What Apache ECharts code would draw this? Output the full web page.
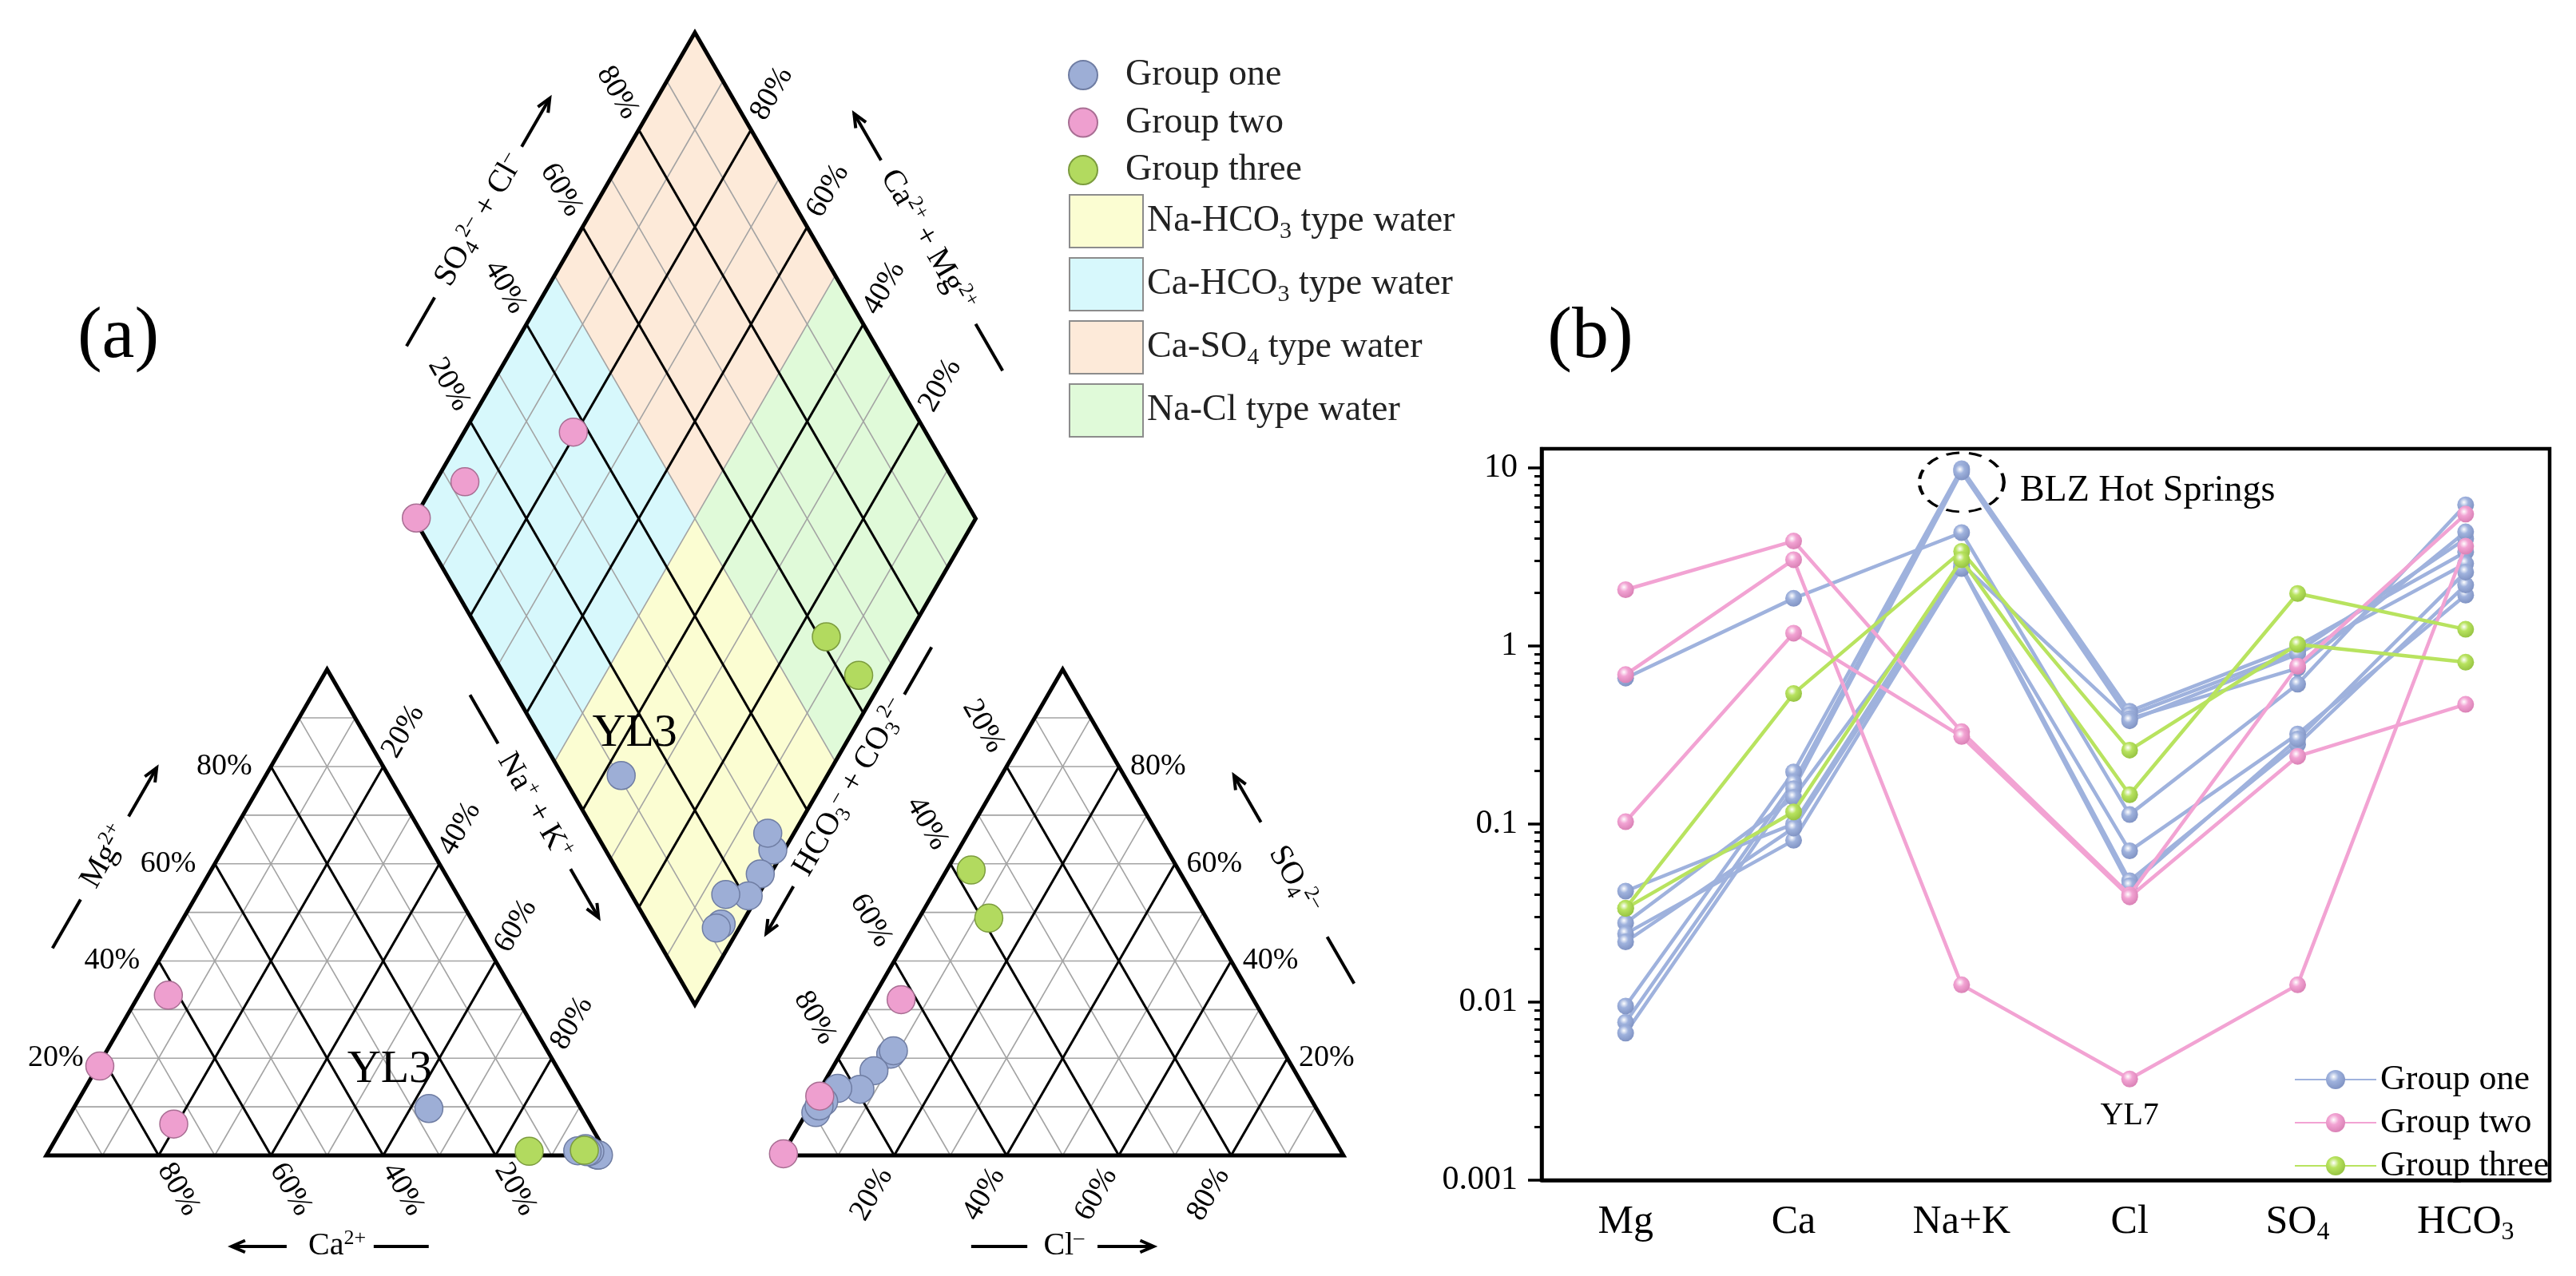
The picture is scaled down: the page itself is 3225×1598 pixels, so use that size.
<!DOCTYPE html>
<html><head><meta charset="utf-8">
<script src="https://cdn.jsdelivr.net/npm/echarts@6/dist/echarts.min.js"></script>
<style>html,body{margin:0;padding:0;background:#fff}#c{width:3225px;height:1598px}</style>
</head><body><div id="c"></div>
<script>
// ---------------- DATA ----------------
const categories = ['Mg', 'Ca', 'Na+K', 'Cl', 'SO4', 'HCO3'];
// each row: Mg, Ca, Na+K, Cl, SO4, HCO3
const groupOne = [
  [0.66, 1.85, 4.33, 0.113, 0.61, 6.2],
  [0.0095, 0.196, 9.9, 0.43, 1.0, 3.37],
  [0.0077, 0.171, 9.7, 0.41, 0.93, 4.0],
  [0.0067, 0.158, 9.5, 0.39, 0.75, 4.37],
  [0.042, 0.1, 2.9, 0.38, 0.9, 2.9],
  [0.0278, 0.141, 2.72, 0.0707, 0.32, 1.93],
  [0.0242, 0.081, 2.8, 0.048, 0.28, 2.2],
  [0.0218, 0.095, 2.75, 0.045, 0.3, 2.6]
];
const groupTwo = [
  [2.07, 3.88, 0.33, 0.04, 0.77, 5.5],
  [0.69, 3.05, 0.0125, 0.0037, 0.0125, 3.63],
  [0.103, 1.18, 0.31, 0.039, 0.24, 0.47]
];
const groupThree = [
  [0.0336, 0.54, 3.4, 0.26, 1.02, 0.81],
  [0.0336, 0.117, 3.05, 0.146, 1.97, 1.24]
];
const groupNames = ['Group one', 'Group two', 'Group three'];
const yl3Index = 0;      // in groupOne
const yl7Index = 1;      // in groupTwo
const blzIndex = 1;      // in groupOne (BLZ hot springs)
const yMajorTicks = [0.001, 0.01, 0.1, 1, 10];
const yMinorTicks = [0.002,0.003,0.004,0.005,0.006,0.007,0.008,0.009,
  0.02,0.03,0.04,0.05,0.06,0.07,0.08,0.09,
  0.2,0.3,0.4,0.5,0.6,0.7,0.8,0.9,
  2,3,4,5,6,7,8,9];
const piperLabelTicks = [20, 40, 60, 80];
const piperGridSteps = [10, 20, 30, 40, 50, 60, 70, 80, 90];
const zoneNames = ['Na-HCO3 type water', 'Ca-HCO3 type water', 'Ca-SO4 type water', 'Na-Cl type water'];
// [a0, a1, c0, c1]  a = (SO4+Cl) fraction, c = (Na+K) fraction
const zoneRanges = [[0, 0.5, 0.5, 1], [0, 0.5, 0, 0.5], [0.5, 1, 0, 0.5], [0.5, 1, 0.5, 1]];

// ---------------- STYLE ----------------
const FONT = 'Liberation Serif';
const zoneColors = ['#FBFDD2', '#D7F8FC', '#FDEAD9', '#E0FAD9'];
const ptFill = ['#9DAED6', '#EE9FCF', '#B2DA5F'];
const ptBorder = ['#6F7DA3', '#A86E93', '#7C9C3E'];
const lineCol = ['#9FB2DD', '#F2A3D3', '#B8E35F'];
const darkCol = ['#8194C4', '#DA82B6', '#97C443'];

// ---------------- PIPER GEOMETRY (units: percent) ----------------
const S = 100, GAP = 31, H = S * Math.sqrt(3) / 2;
const RX0 = S + GAP, DX0 = S + GAP / 2, DY0 = GAP * Math.sqrt(3) / 2;
const Lpt = (ca, mg, nk) => [S * nk + S / 2 * mg, H * mg];
const Rpt = (hc, so, cl) => [RX0 + S * cl + S / 2 * so, H * so];
const Dpt = (a, c) => [DX0 + S / 2 * a - S / 2 * (1 - c), DY0 + H * (a + 1 - c)];
const PX = 7.03, X0 = 58, BASE = 1447;
const XMIN = -5, XMAX = 240, YMIN = -5, YMAX = 205;

const RICH = {
  n: {fontSize: 40, lineHeight: 46, fontFamily: FONT, color: '#000'},
  p: {fontSize: 26, lineHeight: 22, verticalAlign: 'top', fontFamily: FONT, color: '#000'},
  b: {fontSize: 26, lineHeight: 22, verticalAlign: 'bottom', fontFamily: FONT, color: '#000'}
};

function piperItems(samples, labelIdx, labelText) {
  const items = [];
  samples.forEach((s, i) => {
    const ct = s[0] + s[1] + s[2], at = s[3] + s[4] + s[5];
    const mg = s[0] / ct, ca = s[1] / ct, nk = s[2] / ct;
    const cl = s[3] / at, so = s[4] / at, hc = s[5] / at;
    const lp = Lpt(ca, mg, nk), rp = Rpt(hc, so, cl), dp = Dpt(cl + so, nk);
    const lab = (off) => ({show: true, formatter: labelText, position: 'inside', offset: off,
      fontSize: 58, fontFamily: FONT, color: '#000'});
    items.push(i === labelIdx ? {value: lp, label: lab([-49, -48])} : lp);
    items.push(rp);
    items.push(i === labelIdx ? {value: dp, label: lab([17, -53])} : dp);
  });
  return items;
}

// grid line families
function gridLine(f, p) {
  switch (f) {
    case 0: return [Lpt(1 - p, p, 0), Lpt(0, p, 1 - p)];
    case 1: return [Lpt(p, 1 - p, 0), Lpt(p, 0, 1 - p)];
    case 2: return [Lpt(1 - p, 0, p), Lpt(0, 1 - p, p)];
    case 3: return [Rpt(1 - p, p, 0), Rpt(0, p, 1 - p)];
    case 4: return [Rpt(p, 1 - p, 0), Rpt(p, 0, 1 - p)];
    case 5: return [Rpt(1 - p, 0, p), Rpt(0, 1 - p, p)];
    case 6: return [Dpt(p, 0), Dpt(p, 1)];
    default: return [Dpt(0, p), Dpt(1, p)];
  }
}
const isMajor = (f, pc) => f !== 0 && f !== 3 && pc % 20 === 0;
const minorData = [], majorData = [];
for (let f = 0; f < 8; f++) piperGridSteps.forEach(pc => (isMajor(f, pc) ? majorData : minorData).push([f, pc]));

// tick label families
const c60 = 0.5, s60 = Math.sqrt(3) / 2;
const tickFam = [
  {pt: p => Lpt(1 - p, p, 0), off: [-8.3, 0], rot: 0},
  {pt: p => Lpt(p, 0, 1 - p), off: [c60 * 7, -s60 * 7], rot: -60},
  {pt: p => Lpt(0, 1 - p, p), off: [c60 * 7.2, s60 * 7.2], rot: 60},
  {pt: p => Rpt(p, 1 - p, 0), off: [-c60 * 8.3, s60 * 8.3], rot: -60},
  {pt: p => Rpt(1 - p, 0, p), off: [-c60 * 8, -s60 * 8], rot: 60},
  {pt: p => Rpt(0, p, 1 - p), off: [7, 0], rot: 0},
  {pt: p => Dpt(p, 0), off: [-c60 * 7.6, s60 * 7.6], rot: -60},
  {pt: p => Dpt(1, 1 - p), off: [c60 * 7.4, s60 * 7.4], rot: 60}
];
const tickData = [];
for (let f = 0; f < 8; f++) piperLabelTicks.forEach(pc => tickData.push([f, pc]));

// axis titles: text centre, arrow angle, gaps, length, text rotation
const piperTitles = [
  {t: '{n|Mg}{p|2+}', c: [10.5, 53.2], ang: 60, gA: 8.3, gD: 8.8, len: 10, rot: 60},
  {t: '{n|Ca}{p|2+}', c: [51.8, -16.2], ang: 180, gA: 9, gD: 6.5, len: 9.8, rot: 0},
  {t: '{n|Na}{p|+}{n| + K}{p|+}', c: [86.9, 62.2], ang: -60, gA: 12.9, gD: 12.9, len: 10, rot: -60},
  {t: '{n|SO}{b|4}{p|2–}{n| + Cl}{p|–}', c: [77.1, 166.6], ang: 60, gA: 15.1, gD: 15.9, len: 10, rot: 60},
  {t: '{n|Ca}{p|2+}{n| + Mg}{p|2+}', c: [156.9, 163.0], ang: 120, gA: 16.5, gD: 17.2, len: 9.6, rot: -60},
  {t: '{n|HCO}{b|3}{p|–}{n| + CO}{b|3}{p|2–}', c: [143.2, 65.5], ang: 240, gA: 20.3, gD: 19.2, len: 9.7, rot: 60},
  {t: '{n|SO}{b|4}{p|2–}', c: [222.2, 49.15], ang: 120, gA: 11.8, gD: 11.8, len: 9.6, rot: -60},
  {t: '{n|Cl}{p|–}', c: [181.2, -16.2], ang: 0, gA: 6, gD: 6.5, len: 10, rot: 0}
];

// ---------------- SERIES ----------------
const series = [];
const ax0 = {xAxisIndex: 0, yAxisIndex: 0};

zoneNames.forEach((nm, i) => {
  series.push(Object.assign({
    type: 'custom', name: nm, z: 1, silent: true,
    itemStyle: {color: zoneColors[i], borderColor: '#8C8C8C', borderWidth: 2},
    data: [zoneRanges[i]],
    renderItem: (params, api) => {
      const a0 = api.value(0), a1 = api.value(1), c0 = api.value(2), c1 = api.value(3);
      const pts = [Dpt(a0, c0), Dpt(a1, c0), Dpt(a1, c1), Dpt(a0, c1)].map(p => api.coord(p));
      return {type: 'polygon', shape: {points: pts}, style: {fill: zoneColors[i], stroke: null, lineWidth: 0}};
    }
  }, ax0));
});

function gridSeries(data, major) {
  return Object.assign({
    type: 'custom', z: major ? 3 : 2, silent: true, data: data,
    renderItem: (params, api) => {
      const e = gridLine(api.value(0), api.value(1) / 100);
      const a = api.coord(e[0]), b = api.coord(e[1]);
      return {type: 'line', shape: {x1: a[0], y1: a[1], x2: b[0], y2: b[1]},
        style: {stroke: major ? '#000' : '#A3A3A3', lineWidth: major ? 3 : 1.6}};
    }
  }, ax0);
}
series.push(gridSeries(minorData, false));
series.push(gridSeries(majorData, true));

series.push(Object.assign({
  type: 'custom', z: 4, silent: true, data: [[0], [1], [2]],
  renderItem: (params, api) => {
    const k = api.value(0);
    let poly;
    if (k === 0) poly = [Lpt(1, 0, 0), Lpt(0, 0, 1), Lpt(0, 1, 0)];
    else if (k === 1) poly = [Rpt(1, 0, 0), Rpt(0, 0, 1), Rpt(0, 1, 0)];
    else poly = [Dpt(0, 1), Dpt(1, 1), Dpt(1, 0), Dpt(0, 0)];
    return {type: 'polygon', shape: {points: poly.map(p => api.coord(p))},
      style: {fill: null, stroke: '#000', lineWidth: 5, lineJoin: 'miter'}};
  }
}, ax0));

series.push(Object.assign({
  type: 'custom', z: 4, silent: true, data: tickData,
  renderItem: (params, api) => {
    const fam = tickFam[api.value(0)], pc = api.value(1);
    const a = fam.pt(pc / 100);
    const q = api.coord([a[0] + fam.off[0], a[1] + fam.off[1]]);
    return {type: 'text', x: q[0], y: q[1], rotation: fam.rot * Math.PI / 180,
      style: {text: pc + '%', x: 0, y: 0, align: 'center', verticalAlign: 'middle',
        fontSize: 38, fontFamily: FONT, fill: '#000'}};
  }
}, ax0));

series.push(Object.assign({
  type: 'custom', z: 4, silent: true, data: piperTitles.map((d, i) => [i]),
  renderItem: (params, api) => {
    const d = piperTitles[api.value(0)];
    const r = d.ang * Math.PI / 180, ux = Math.cos(r), uy = Math.sin(r), T = d.c;
    const at = (g) => [T[0] + ux * g, T[1] + uy * g];
    const a1 = at(d.gA), a2 = at(d.gA + d.len), d1 = at(-d.gD), d2 = at(-(d.gD + d.len));
    const hl = 2.4, hw = 1.05;
    const hb = [a2[0] - ux * hl, a2[1] - uy * hl];
    const h1 = [hb[0] - uy * hw, hb[1] + ux * hw], h2 = [hb[0] + uy * hw, hb[1] - ux * hw];
    const C = p => api.coord(p);
    const tp = C(T);
    const ln = (p, q) => { const A = C(p), B = C(q);
      return {type: 'line', shape: {x1: A[0], y1: A[1], x2: B[0], y2: B[1]}, style: {stroke: '#000', lineWidth: 4}}; };
    return {type: 'group', children: [
      ln(d1, d2), ln(a1, a2),
      {type: 'polyline', shape: {points: [C(h1), C(a2), C(h2)]}, style: {stroke: '#000', lineWidth: 4, fill: null, lineJoin: 'miter'}},
      {type: 'text', x: tp[0], y: tp[1], rotation: d.rot * Math.PI / 180,
        style: {text: d.t, x: 0, y: 0, align: 'center', verticalAlign: 'middle', fontSize: 40, lineHeight: 46,
          fontFamily: FONT, fill: '#000', rich: RICH}}
    ]};
  }
}, ax0));

[groupOne, groupTwo, groupThree].forEach((g, gi) => {
  series.push(Object.assign({
    type: 'scatter', name: groupNames[gi], z: 10 + gi, clip: false,
    symbol: 'circle', symbolSize: 35,
    itemStyle: {color: ptFill[gi], borderColor: ptBorder[gi], borderWidth: 1.5, opacity: 1},
    emphasis: {disabled: true},
    data: piperItems(g, gi === 0 ? yl3Index : -1, 'YL3')
  }, ax0));
});

// Schoeller lines
function sphere(gi) {
  return {type: 'radial', x: 0.4, y: 0.35, r: 0.65, colorStops: [
    {offset: 0, color: '#FFFFFF'}, {offset: 0.4, color: lineCol[gi]}, {offset: 1, color: darkCol[gi]}]};
}
[groupOne, groupTwo, groupThree].forEach((g, gi) => {
  g.forEach((s, i) => {
    const data = s.map((v, k) => {
      if (gi === 1 && i === yl7Index && k === 3)
        return {value: v, label: {show: true, position: 'bottom', distance: 16, formatter: 'YL7',
          fontSize: 40, fontFamily: FONT, color: '#000'}};
      return v;
    });
    const ser = {
      type: 'line', name: groupNames[gi] + ' (b)', xAxisIndex: 1, yAxisIndex: 1, z: 20 + gi,
      data: data, symbol: 'circle', symbolSize: 21, showAllSymbol: true,
      lineStyle: {color: lineCol[gi], width: 4.5},
      itemStyle: {color: sphere(gi), borderWidth: 0},
      emphasis: {disabled: true}
    };
    if (gi === 0 && i === blzIndex) {
      ser.markPoint = {silent: true, symbol: 'circle', symbolSize: [106, 74],
        itemStyle: {color: 'rgba(0,0,0,0)', borderColor: '#000', borderWidth: 3.5, borderType: [14, 10]},
        label: {show: true, position: 'right', distance: 18, offset: [0, 11], formatter: 'BLZ Hot Springs',
          fontSize: 46, fontFamily: FONT, color: '#000'},
        data: [{coord: [2, 8.3]}]};
    }
    series.push(ser);
  });
});

const subFmt = n => n.replace('HCO3', 'HCO{s|3}').replace('SO4', 'SO{s|4}');

const option = {
  animation: false,
  backgroundColor: '#fff',
  textStyle: {fontFamily: FONT, color: '#000'},
  graphic: [
    {type: 'text', x: 148, y: 423, style: {text: '(a)', fontSize: 92, fontFamily: FONT, fill: '#000', align: 'center', verticalAlign: 'middle'}},
    {type: 'text', x: 1991, y: 423, style: {text: '(b)', fontSize: 92, fontFamily: FONT, fill: '#000', align: 'center', verticalAlign: 'middle'}}
  ],
  grid: [
    {left: X0 + XMIN * PX, top: BASE - YMAX * PX, width: (XMAX - XMIN) * PX, height: (YMAX - YMIN) * PX,
      show: false, containLabel: false, outerBoundsMode: 'none'},
    {left: 1930, right: 33, top: 562, bottom: 120, show: true, borderColor: '#000', borderWidth: 4.5,
      backgroundColor: 'rgba(0,0,0,0)', containLabel: false, outerBoundsMode: 'none'}
  ],
  xAxis: [
    {type: 'value', gridIndex: 0, min: XMIN, max: XMAX, show: false},
    {type: 'category', gridIndex: 1, data: categories, boundaryGap: true,
      axisLine: {lineStyle: {color: '#000', width: 4.5}},
      axisTick: {alignWithLabel: true, interval: 0, length: 17, lineStyle: {color: '#000', width: 3.5}},
      axisLabel: {interval: 0, fontSize: 50, fontFamily: FONT, color: '#000', margin: 24, lineHeight: 58, formatter: v => subFmt(v),
        rich: {s: {fontSize: 32, lineHeight: 30, verticalAlign: 'bottom', fontFamily: FONT, color: '#000'}}},
      splitLine: {show: false}}
  ],
  yAxis: [
    {type: 'value', gridIndex: 0, min: YMIN, max: YMAX, show: false},
    {type: 'log', logBase: 10, gridIndex: 1, min: 0.001, max: 12.8, position: 'left',
      axisLine: {show: true, lineStyle: {color: '#000', width: 4.5}},
      axisTick: {show: true, length: 17, lineStyle: {color: '#000', width: 3.5}, customValues: yMajorTicks},
      axisLabel: {show: true, fontSize: 42, fontFamily: FONT, color: '#000', margin: 30, customValues: yMajorTicks,
        formatter: v => String(+Number(v).toPrecision(3))},
      splitLine: {show: false}, minorTick: {show: false}},
    {type: 'log', logBase: 10, gridIndex: 1, min: 0.001, max: 12.8, position: 'left',
      axisLine: {show: false}, axisLabel: {show: false},
      axisTick: {show: true, length: 9, lineStyle: {color: '#000', width: 3}, customValues: yMinorTicks},
      splitLine: {show: false}}
  ],
  legend: [
    {data: groupNames, orient: 'vertical', left: 1332, top: 64, icon: 'circle', itemWidth: 96, itemHeight: 36,
      itemGap: 9.5, selectedMode: false, textStyle: {fontSize: 46, lineHeight: 50, fontFamily: FONT, color: '#222'}},
    {data: zoneNames, orient: 'vertical', left: 1333, top: 238, icon: 'rect', itemWidth: 92, itemHeight: 66,
      itemGap: 11, selectedMode: false, itemStyle: {borderColor: '#8C8C8C', borderWidth: 2},
      formatter: n => subFmt(n),
      textStyle: {fontSize: 46, lineHeight: 56, fontFamily: FONT, color: '#222',
        rich: {s: {fontSize: 30, lineHeight: 28, verticalAlign: 'bottom', fontFamily: FONT, color: '#222'}}}},
    {data: groupNames.map(n => n + ' (b)'), orient: 'vertical', left: 2867, top: 1322, itemWidth: 102, itemHeight: 30,
      itemGap: 4, selectedMode: false, formatter: n => n.replace(' (b)', ''),
      textStyle: {fontSize: 44, lineHeight: 50, fontFamily: FONT, color: '#000'}}
  ],
  series: series
};
const chart = echarts.init(document.getElementById('c'));
chart.setOption(option);
</script></body></html>
